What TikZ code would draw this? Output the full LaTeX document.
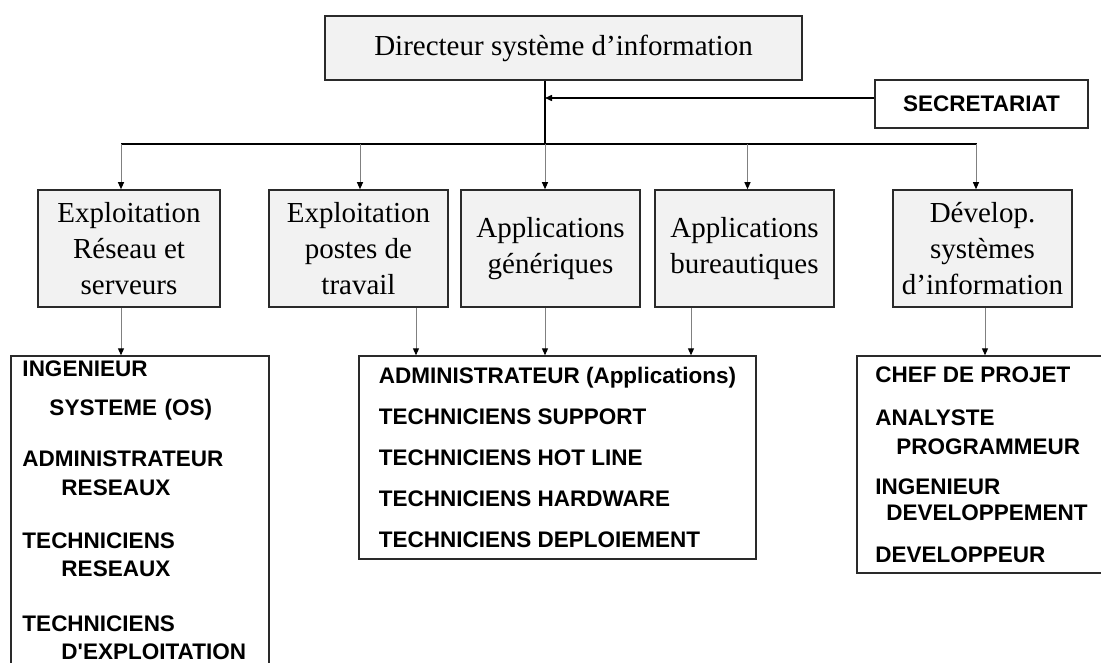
\documentclass[tikz,border=0pt]{standalone}
\usepackage{fontspec}
\setmainfont{Liberation Serif}
\setsansfont{Liberation Sans}
\usetikzlibrary{arrows.meta}
\definecolor{boxgrey}{HTML}{F2F2F2}
\definecolor{edge}{HTML}{2A2A2A}
\begin{document}
\begin{tikzpicture}[x=1pt, y=-1pt,
    box/.style={draw=edge, line width=1.6pt, inner sep=0pt, align=center,
                font=\fontsize{29}{36}\selectfont},
    greyed/.style={fill=boxgrey},
    liste/.style={draw=edge, line width=1.4pt, inner sep=0pt, align=left,
                  font=\sffamily\bfseries\fontsize{22.5}{28}\selectfont},
    tip/.style={-{Triangle[width=6pt,length=7pt,color=black]}},
    drop/.style={tip, draw=gray, line width=1pt},
    bus/.style={draw=black, line width=1.5pt}]
  \useasboundingbox (0,0) rectangle (1101,662);
  \clip (0,0) rectangle (1101,662);
  % top
  \node[box, greyed, minimum width=477pt, minimum height=64pt] (dir) at (563.5,48)
    {Directeur système d’information};
  \node[box, minimum width=213pt, minimum height=48pt,
        font=\sffamily\bfseries\fontsize{22.5}{28}\selectfont] (secr) at (981.5,104) {SECRETARIAT};
  \coordinate (bus) at (545,144);
  \coordinate (busL) at (121,144);
  \coordinate (busR) at (977,144);
  % services
  \node[box, greyed, minimum width=182pt, minimum height=117pt] (b1) at (129,248.5)
    {Exploitation\\Réseau et\\serveurs};
  \node[box, greyed, minimum width=179pt, minimum height=117pt] (b2) at (358.5,248.5)
    {Exploitation\\postes de\\travail};
  \node[box, greyed, minimum width=179pt, minimum height=117pt] (b3) at (550.5,248.5)
    {Applications\\génériques};
  \node[box, greyed, minimum width=179pt, minimum height=117pt] (b4) at (744.5,248.5)
    {Applications\\bureautiques};
  \node[box, greyed, minimum width=179pt, minimum height=117pt] (b5) at (982.5,248.5)
    {Dévelop.\\systèmes\\d’information};
  % personnel
  \node[liste, text width=235pt, minimum width=258pt, minimum height=308pt] (l1) at (140,510)
    {INGENIEUR\\[11pt]
     \hspace*{27pt}SYSTEME (OS)\\[23pt]
     ADMINISTRATEUR\\[1pt]
     \hspace*{39pt}RESEAUX\\[25pt]
     TECHNICIENS\\
     \hspace*{39pt}RESEAUX\\[27pt]
     TECHNICIENS\\
     \hspace*{39pt}D\textquotesingle EXPLOITATION};
  \node[liste, minimum width=397pt, minimum height=203pt] (l2) at (557.5,457.5)
    {ADMINISTRATEUR (Applications)\\[13pt]
     TECHNICIENS SUPPORT\\[13pt]
     TECHNICIENS HOT LINE\\[13pt]
     TECHNICIENS HARDWARE\\[13pt]
     TECHNICIENS DEPLOIEMENT};
  \node[liste, minimum width=249pt, minimum height=217pt] (l3) at (981.5,464.5)
    {CHEF DE PROJET\\[15pt]
     ANALYSTE\\[1pt]
     \hspace*{21pt}PROGRAMMEUR\\[12pt]
     INGENIEUR\\[-2pt]
     \hspace*{11pt}DEVELOPPEMENT\\[14pt]
     DEVELOPPEUR};
  % links
  \draw[bus] (dir.south -| bus) -- (bus);
  \draw[bus] (busL) -- (busR);
  \draw[bus, tip] ([yshift=6pt]secr.west) -- ([yshift=6pt]secr.west -| bus);
  \draw[drop] ([xshift=-8pt]b1.north |- busL) -- ([xshift=-8pt]b1.north);
  \draw[drop] ([xshift=1.5pt]b2.north |- busL) -- ([xshift=1.5pt]b2.north);
  \draw[drop] (bus) -- (b3.north -| bus);
  \draw[drop] ([xshift=3pt]b4.north |- busL) -- ([xshift=3pt]b4.north);
  \draw[drop] ([xshift=-6.5pt]b5.north |- busL) -- ([xshift=-6.5pt]b5.north);
  \draw[drop] ([xshift=-8pt]b1.south) -- ([xshift=-8pt]b1.south |- l1.north);
  \draw[drop] ([xshift=57.5pt]b2.south) -- ([xshift=57.5pt]b2.south |- l2.north);
  \draw[drop] ([xshift=-5.5pt]b3.south) -- ([xshift=-5.5pt]b3.south |- l2.north);
  \draw[drop] ([xshift=-53.5pt]b4.south) -- ([xshift=-53.5pt]b4.south |- l2.north);
  \draw[drop] ([xshift=2.5pt]b5.south) -- ([xshift=2.5pt]b5.south |- l3.north);
\end{tikzpicture}
\end{document}
